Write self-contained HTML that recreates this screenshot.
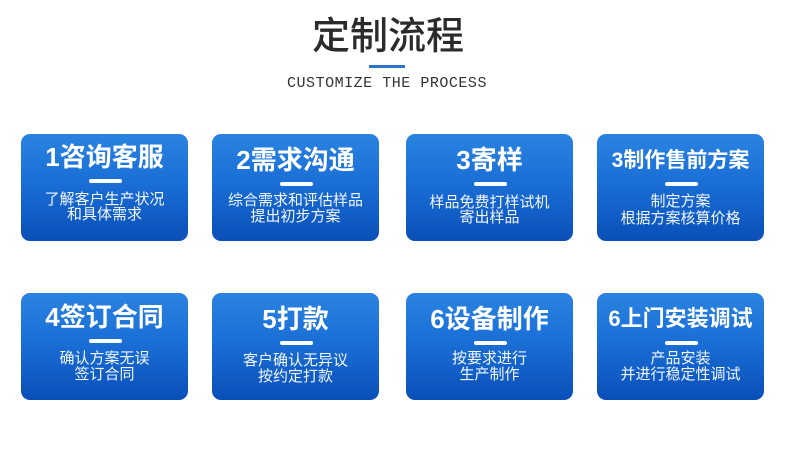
<!DOCTYPE html>
<html lang="zh">
<head>
<meta charset="utf-8">
<style>
html,body{margin:0;padding:0;background:#fff}
#p{position:relative;width:790px;height:470px;overflow:hidden;background:#fff;font-family:"Liberation Sans","Noto Sans CJK SC",sans-serif}
.t{position:absolute;left:0;width:790px;text-align:center;white-space:nowrap}
.card{position:absolute;width:167px;height:107px;border-radius:9px;background:linear-gradient(180deg,#2a83e0 0%,#1a6fd6 45%,#0a4fb8 100%);color:#fff}
.card div{position:absolute;left:0;width:167px;text-align:center;white-space:nowrap}
.h{font-size:26px;font-weight:700;line-height:30px;height:30px}
.h.s{font-size:22px}
.h.m{font-size:21px}
.b{left:68px !important;width:33px !important;height:4px;border-radius:2px;background:#fff}
.l{font-size:15px;line-height:18px;height:18px;font-weight:400;color:#f2f7ff;margin-top:1px}
</style>
</head>
<body>
<div id="p">
<div class="t" style="left:-7px;top:14px;font-size:38px;line-height:46px;font-weight:500;color:#2b2b2b">定制流程</div>
<div style="position:absolute;left:369px;top:65px;width:36px;height:3px;background:#2a75c5"></div>
<div class="t" style="left:-8px;top:75px;font-family:'Liberation Mono',monospace;font-size:15px;line-height:18px;letter-spacing:0.52px;color:#333">CUSTOMIZE THE PROCESS</div>

<div class="card" style="left:21px;top:134px">
<div class="h" style="top:8px">1咨询客服</div><div class="b" style="top:45px"></div>
<div class="l" style="top:56px">了解客户生产状况</div><div class="l" style="top:71px">和具体需求</div></div>

<div class="card" style="left:212px;top:134px">
<div class="h" style="top:11px">2需求沟通</div><div class="b" style="top:48px"></div>
<div class="l" style="top:57px">综合需求和评估样品</div><div class="l" style="top:73px">提出初步方案</div></div>

<div class="card" style="left:406px;top:134px">
<div class="h" style="top:11px">3寄样</div><div class="b" style="top:48px"></div>
<div class="l" style="top:59px">样品免费打样试机</div><div class="l" style="top:74px">寄出样品</div></div>

<div class="card" style="left:597px;top:134px">
<div class="h m" style="top:12px">3制作售前方案</div><div class="b" style="top:48px"></div>
<div class="l" style="top:58px">制定方案</div><div class="l" style="top:75px">根据方案核算价格</div></div>

<div class="card" style="left:21px;top:293px">
<div class="h" style="top:9px">4签订合同</div><div class="b" style="top:46px"></div>
<div class="l" style="top:56px">确认方案无误</div><div class="l" style="top:72px">签订合同</div></div>

<div class="card" style="left:212px;top:293px">
<div class="h" style="top:11px">5打款</div><div class="b" style="top:48px"></div>
<div class="l" style="top:58px">客户确认无异议</div><div class="l" style="top:74px">按约定打款</div></div>

<div class="card" style="left:406px;top:293px">
<div class="h" style="top:11px">6设备制作</div><div class="b" style="top:48px"></div>
<div class="l" style="top:56px">按要求进行</div><div class="l" style="top:72px">生产制作</div></div>

<div class="card" style="left:597px;top:293px">
<div class="h s" style="top:11px">6上门安装调试</div><div class="b" style="top:48px"></div>
<div class="l" style="top:56px">产品安装</div><div class="l" style="top:72px">并进行稳定性调试</div></div>
</div>
</body>
</html>
